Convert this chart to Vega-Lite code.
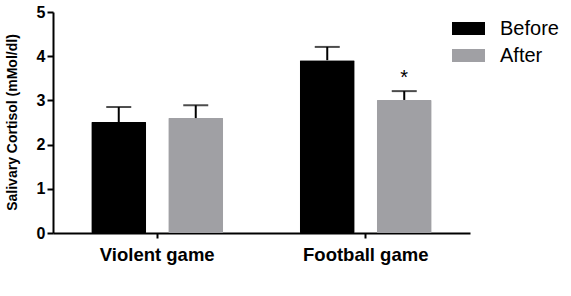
{
  "$schema": "https://vega.github.io/schema/vega-lite/v6.json",
  "width": 417,
  "height": 221,
  "autosize": "none",
  "padding": {"left": 53, "top": 12, "right": 101, "bottom": 63},
  "background": "white",
  "config": {"view": {"stroke": null}, "font": "Liberation Sans"},
  "data": {"values": [
    {"game": "Violent game", "time": "Before", "mean": 2.51, "upper": 2.85, "sig": ""},
    {"game": "Violent game", "time": "After", "mean": 2.6, "upper": 2.89, "sig": ""},
    {"game": "Football game", "time": "Before", "mean": 3.91, "upper": 4.21, "sig": ""},
    {"game": "Football game", "time": "After", "mean": 3.01, "upper": 3.21, "sig": "*"}
  ]},
  "encoding": {
    "x": {
      "field": "game", "type": "nominal", "sort": ["Violent game", "Football game"],
      "scale": {"paddingInner": 0, "paddingOuter": 0},
      "axis": {"title": null, "labelAngle": 0, "labelFontSize": 18.5, "labelFontWeight": "bold", "labelColor": "black",
               "tickColor": "black", "tickWidth": 2, "tickSize": 5, "domainColor": "black", "domainWidth": 2, "labelPadding": 7}
    },
    "xOffset": {"field": "time", "type": "nominal", "sort": ["Before", "After"], "scale": {"paddingInner": 0.286, "paddingOuter": 0.497}}
  },
  "layer": [
    {
      "mark": {"type": "bar", "cornerRadius": 1},
      "encoding": {
        "y": {"field": "mean", "type": "quantitative", "scale": {"domain": [0, 5]},
              "axis": {"values": [0, 1, 2, 3, 4, 5], "grid": false, "domainColor": "black", "domainWidth": 2, "tickColor": "black", "tickWidth": 2, "tickSize": 6,
                       "labelFontSize": 16, "labelFontWeight": "bold", "labelColor": "black", "labelPadding": 2,
                       "title": "Salivary Cortisol (mMol/dl)", "titleFontSize": 14, "titleFontWeight": "bold", "titleColor": "black",
                       "titleX": -41, "titleY": 110, "titleBaseline": "middle"}},
        "color": {"field": "time", "type": "nominal", "sort": ["Before", "After"],
                  "scale": {"domain": ["Before", "After"], "range": ["#000000", "#a0a0a4"]},
                  "legend": {"title": null, "orient": "none", "legendX": 399, "legendY": 0, "padding": 0,
                             "symbolType": "M-1,-0.4H1V0.4H-1Z", "symbolSize": 1089, "symbolStrokeWidth": 0,
                             "labelFontSize": 20, "labelOffset": 15, "labelColor": "black", "rowPadding": 0}}
      }
    },
    {
      "mark": {"type": "rule", "strokeWidth": 2, "color": "black"},
      "encoding": {"y": {"field": "mean", "type": "quantitative"}, "y2": {"field": "upper"}}
    },
    {
      "mark": {"type": "tick", "orient": "horizontal", "size": 25, "thickness": 2, "color": "black"},
      "encoding": {"y": {"field": "upper", "type": "quantitative"}}
    },
    {
      "mark": {"type": "text", "dy": -7, "fontSize": 20, "baseline": "alphabetic", "color": "black"},
      "encoding": {"y": {"field": "upper", "type": "quantitative"}, "text": {"field": "sig"}}
    }
  ]
}
